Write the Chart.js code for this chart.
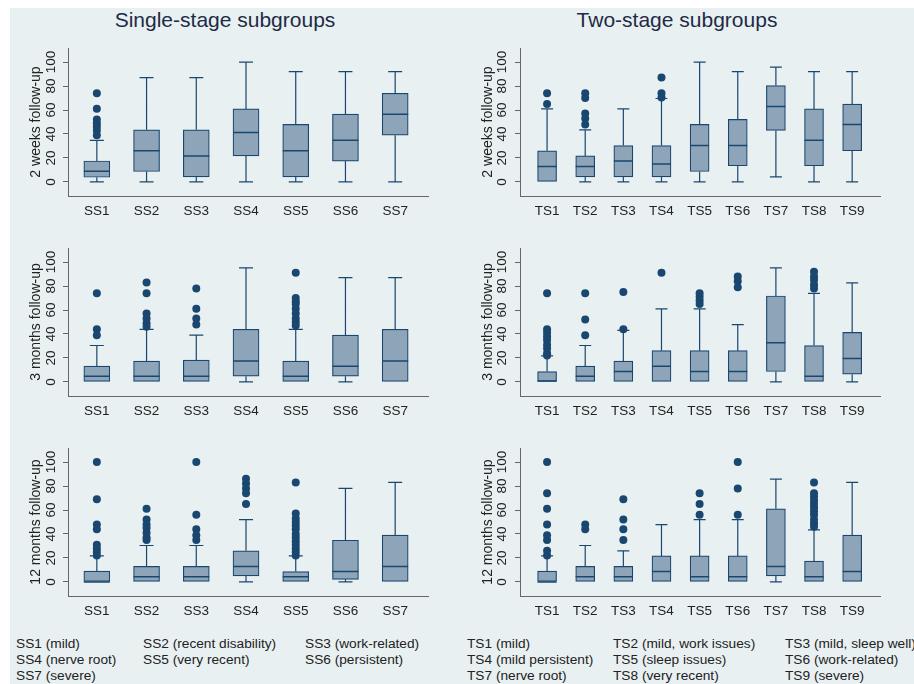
<!DOCTYPE html>
<html>
<head>
<meta charset="utf-8">
<script src="https://cdn.jsdelivr.net/npm/chart.js@4.4.1/dist/chart.umd.min.js"></script>
<style>
  body { margin: 0; background: #ffffff; font-family: "Liberation Sans", Arial, sans-serif; }
  #fig { position: absolute; left: 10px; top: 8px; width: 904px; height: 676px; background: #e9f0f2; }
  canvas { position: absolute; }
  .coltitle { position: absolute; width: 400px; text-align: center; font-size: 21px; line-height: 24px; color: #1e2b45; top: 8px; }
  .note { position: absolute; top: 636px; font-size: 13.7px; line-height: 16px; color: #222; white-space: nowrap; }
</style>
</head>
<body>
<div id="fig"></div>
<div class="coltitle" style="left:25px">Single-stage subgroups</div>
<div class="coltitle" style="left:477px">Two-stage subgroups</div>

<canvas id="ss2w" width="445" height="200" style="left:10px;top:28px"></canvas>
<canvas id="ts2w" width="459" height="200" style="left:455px;top:28px"></canvas>
<canvas id="ss3m" width="445" height="200" style="left:10px;top:228px"></canvas>
<canvas id="ts3m" width="459" height="200" style="left:455px;top:228px"></canvas>
<canvas id="ss12m" width="445" height="200" style="left:10px;top:428px"></canvas>
<canvas id="ts12m" width="459" height="200" style="left:455px;top:428px"></canvas>

<div class="note" style="left:16px">SS1 (mild)<br>SS4 (nerve root)<br>SS7 (severe)</div>
<div class="note" style="left:143px">SS2 (recent disability)<br>SS5 (very recent)</div>
<div class="note" style="left:305px">SS3 (work-related)<br>SS6 (persistent)</div>
<div class="note" style="left:467px">TS1 (mild)<br>TS4 (mild persistent)<br>TS7 (nerve root)</div>
<div class="note" style="left:613px">TS2 (mild, work issues)<br>TS5 (sleep issues)<br>TS8 (very recent)</div>
<div class="note" style="left:785px">TS3 (mild, sleep well)<br>TS6 (work-related)<br>TS9 (severe)</div>

<script>
// categories
const ssLabels = ["SS1", "SS2", "SS3", "SS4", "SS5", "SS6", "SS7"];
const tsLabels = ["TS1", "TS2", "TS3", "TS4", "TS5", "TS6", "TS7", "TS8", "TS9"];
const yTicks = [0, 20, 40, 60, 80, 100];

// boxes: [lower whisker, q1, median, q3, upper whisker]
const ss2wBoxes = [
  [0, 3.9, 8.9, 17.5, 34.7], [0, 8.7, 26, 43.5, 87], [0, 4.3, 21.7, 43.5, 87],
  [0, 21.7, 41.3, 60.9, 100], [0, 4.3, 26, 48, 92], [0, 17.4, 34.8, 56.5, 92],
  [0, 39, 56.5, 73.9, 92]
];
const ss2wOutliers = [[74, 61, 52, 49, 46, 43, 39], [], [], [], [], [], []];

const ts2wBoxes = [
  [0, 0, 13, 26, 61], [0, 4.3, 13, 21.7, 43.5], [0, 4.3, 17.4, 30.4, 61],
  [0, 4.3, 15, 30.4, 69.6], [0, 8.7, 30.4, 48, 100], [0, 13.5, 30.4, 52.2, 92],
  [4.3, 43, 63, 80.4, 95.7], [0, 13.5, 34.8, 60.9, 92], [0, 26, 48, 65, 92]
];
const ts2wOutliers = [[74, 65], [74, 70, 57, 53, 48], [], [87, 74, 70.5], [], [], [], [], []];

const ss3mBoxes = [
  [0, 0, 4.8, 13.2, 30.4], [0, 0, 4.8, 17.4, 43.9], [0, 0, 4.8, 18.3, 39.1],
  [0, 4.8, 17.4, 43.9, 95.2], [0, 0, 4.8, 17.4, 43.9], [0, 4.8, 13.2, 39.1, 87],
  [0, 0, 17.4, 43.9, 87]
];
const ss3mOutliers = [[74, 44, 39], [83, 74, 57, 53, 49, 46], [78, 61, 53, 48], [],
  [91, 70, 67, 65, 61, 57, 53, 50, 47], [], []];

const ts3mBoxes = [
  [0, 0, 0.8, 8.7, 21.7], [0, 0, 4.8, 13.2, 30.4], [0, 0, 8.7, 17.4, 43],
  [0, 0, 13.2, 26.1, 60.9], [0, 0, 8.7, 26.1, 60.9], [0, 0, 8.7, 26.1, 47.8],
  [0, 8.7, 32.6, 71.7, 95.2], [0, 0, 4.8, 30.4, 73.9], [0, 6.5, 19.6, 41.3, 82.6]
];
const ts3mOutliers = [[74, 44, 41, 38, 35, 31, 28, 24, 22], [74, 52, 39], [75, 44], [91],
  [74, 71, 68, 65], [88, 84, 79], [], [92, 88, 85, 81, 78], []];

const ss12mBoxes = [
  [0, 0, 0, 9.1, 21.7], [0, 0, 4.3, 13, 30.4], [0, 0, 4.3, 13, 30.4],
  [0, 5, 13, 26, 52], [0, 0, 4.3, 8.7, 21.7], [0, 2.2, 8.7, 34.8, 78],
  [0, 0, 13, 39, 83]
];
const ss12mOutliers = [[100, 69, 48, 44, 31, 28, 25, 22], [61, 52, 48, 45, 41, 37, 35],
  [100, 56, 44, 39, 35], [86, 82, 78, 74, 65],
  [83, 57, 53, 50, 47, 44, 40, 37, 34, 31, 28, 25, 22], [], []];

const ts12mBoxes = [
  [0, 0, 0, 9.1, 21.7], [0, 0, 4.3, 13, 30.4], [0, 0, 4.3, 13, 26],
  [0, 0, 8.7, 21.7, 47.8], [0, 0, 4.3, 21.7, 52], [0, 0, 4.3, 21.7, 52],
  [0, 5, 13, 61, 85.7], [0, 0, 4.3, 17.4, 43.5], [0, 0, 8.7, 39, 83]
];
const ts12mOutliers = [[100, 74, 61, 48, 39, 35, 26, 22], [48, 44], [69, 52, 44, 35], [],
  [74, 65, 56], [100, 78, 56], [], [83, 74, 71, 68, 65, 62, 59, 56, 52, 49, 46], []];

const NAVY = "#1a476f";
const BOX_FILL = "#8ea4b8";
const GRID = "#e8f0f2";
const AXIS = "#666666";
const TEXT = "#222222";
const FONT = "'Liberation Sans', Arial, sans-serif";

// whiskers, caps and medians drawn from the chart's own scales
const boxPlugin = {
  id: "boxes",
  beforeDatasetsDraw(chart, args, opts) {
    const { ctx, scales: { x, y } } = chart;
    ctx.save();
    ctx.strokeStyle = NAVY;
    ctx.lineWidth = 1.2;
    ctx.beginPath();
    opts.boxes.forEach((b, i) => {
      const cx = x.getPixelForValue(i + 1);
      const half = opts.capW / 2;
      if (b[4] > b[3]) {
        const yh = y.getPixelForValue(b[4]);
        ctx.moveTo(cx, y.getPixelForValue(b[3]));
        ctx.lineTo(cx, yh);
        ctx.moveTo(cx - half, yh);
        ctx.lineTo(cx + half, yh);
      }
      if (b[0] < b[1]) {
        const yl = y.getPixelForValue(b[0]);
        ctx.moveTo(cx, y.getPixelForValue(b[1]));
        ctx.lineTo(cx, yl);
        ctx.moveTo(cx - half, yl);
        ctx.lineTo(cx + half, yl);
      }
    });
    ctx.stroke();
    ctx.restore();
  },
  afterDatasetsDraw(chart, args, opts) {
    const { ctx, scales: { x, y } } = chart;
    ctx.save();
    ctx.strokeStyle = NAVY;
    ctx.lineWidth = 1.5;
    ctx.beginPath();
    opts.boxes.forEach((b, i) => {
      const cx = x.getPixelForValue(i + 1);
      const ym = y.getPixelForValue(b[2]);
      ctx.moveTo(cx - opts.boxW / 2, ym);
      ctx.lineTo(cx + opts.boxW / 2, ym);
    });
    ctx.stroke();
    ctx.restore();
  }
};

function makePanel(id, labels, boxes, outliers, yTitle, side) {
  const left = side === "left";
  const boxW = left ? 26 : 19;
  const capW = left ? 14 : 12;

  const boxData = boxes.map((b, i) => ({ x: i + 1, y: [b[1], b[3]] }));
  const outData = [];
  outliers.forEach((vals, i) => vals.forEach(v => outData.push({ x: i + 1, y: v })));

  new Chart(document.getElementById(id), {
    type: "bar",
    data: {
      datasets: [
        {
          type: "scatter",
          data: outData,
          pointRadius: 4,
          pointBackgroundColor: NAVY,
          pointBorderWidth: 0,
          order: 0
        },
        {
          data: boxData,
          backgroundColor: BOX_FILL,
          borderColor: NAVY,
          borderWidth: 1.2,
          borderSkipped: false,
          barThickness: boxW,
          order: 1
        }
      ]
    },
    options: {
      responsive: false,
      animation: false,
      layout: { padding: { left: 0, right: left ? 27 : 34, top: 20, bottom: 0 } },
      plugins: {
        legend: { display: false },
        tooltip: { enabled: false },
        boxes: { boxes: boxes, boxW: boxW, capW: capW }
      },
      scales: {
        x: {
          type: "linear",
          min: left ? 0.42 : 0.29,
          max: left ? 7.66 : 9.73,
          offset: false,
          afterBuildTicks: s => { s.ticks = labels.map((_, i) => ({ value: i + 1 })); },
          afterFit: s => { s.height = 32; },
          ticks: {
            callback: v => labels[v - 1],
            color: TEXT,
            font: { family: FONT, size: 13.5 },
            padding: 7,
            autoSkip: false,
            maxRotation: 0
          },
          grid: { display: false, drawTicks: false },
          border: { display: true, color: AXIS, width: 1 }
        },
        y: {
          min: -11.7,
          max: 111.7,
          afterBuildTicks: s => { s.ticks = yTicks.map(v => ({ value: v })); },
          afterFit: s => { s.width = left ? 58 : 65; },
          ticks: {
            minRotation: 90,
            maxRotation: 90,
            crossAlign: "center",
            padding: left ? 0 : 1,
            color: TEXT,
            font: { family: FONT, size: 13.5 }
          },
          grid: { color: GRID, lineWidth: 1, drawTicks: true, tickLength: 5, tickColor: AXIS },
          border: { display: true, color: AXIS, width: 1 },
          title: {
            display: true,
            text: yTitle,
            color: TEXT,
            font: { family: FONT, size: 14, lineHeight: 1.2 },
            padding: { top: left ? 17.6 : 24.6, bottom: 0 }
          }
        }
      }
    },
    plugins: [boxPlugin]
  });
}

makePanel("ss2w", ssLabels, ss2wBoxes, ss2wOutliers, "2 weeks follow-up", "left");
makePanel("ts2w", tsLabels, ts2wBoxes, ts2wOutliers, "2 weeks follow-up", "right");
makePanel("ss3m", ssLabels, ss3mBoxes, ss3mOutliers, "3 months follow-up", "left");
makePanel("ts3m", tsLabels, ts3mBoxes, ts3mOutliers, "3 months follow-up", "right");
makePanel("ss12m", ssLabels, ss12mBoxes, ss12mOutliers, "12 months follow-up", "left");
makePanel("ts12m", tsLabels, ts12mBoxes, ts12mOutliers, "12 months follow-up", "right");
</script>
</body>
</html>
